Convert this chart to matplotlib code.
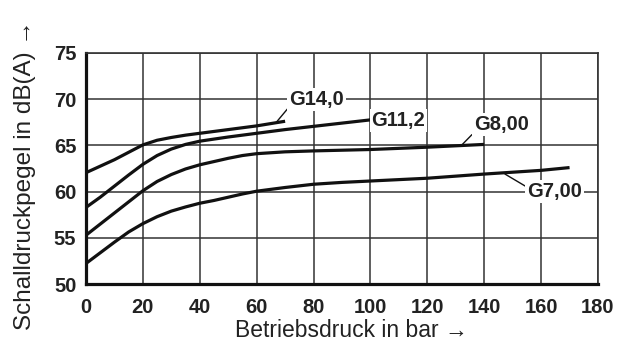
import matplotlib
matplotlib.use("Agg")
import matplotlib.pyplot as plt

# Daten
druck_g14 = [0, 5, 10, 15, 20, 25, 30, 35, 40, 45, 50, 60, 70]
pegel_g14 = [62.05, 62.75, 63.45, 64.25, 65.05, 65.55, 65.85, 66.1, 66.3, 66.5, 66.7, 67.1, 67.6]

druck_g11 = [0, 5, 10, 15, 20, 25, 30, 35, 40, 50, 60, 70, 80, 90, 100]
pegel_g11 = [58.3, 59.4, 60.6, 61.8, 62.95, 63.9, 64.6, 65.1, 65.45, 65.9, 66.3, 66.7, 67.05, 67.4, 67.75]

druck_g8 = [0, 5, 10, 15, 20, 25, 30, 35, 40, 45, 50, 55, 60, 70, 80, 100, 120, 140]
pegel_g8 = [55.3, 56.5, 57.7, 58.9, 60.1, 61.1, 61.85, 62.45, 62.9, 63.25, 63.6, 63.9, 64.1,
            64.3, 64.4, 64.55, 64.8, 65.1]

druck_g7 = [0, 5, 10, 15, 20, 25, 30, 35, 40, 45, 50, 55, 60, 70, 80, 90, 100, 120, 140, 160, 170]
pegel_g7 = [52.25, 53.4, 54.55, 55.65, 56.55, 57.3, 57.9, 58.35, 58.75, 59.05, 59.4, 59.75, 60.05,
            60.45, 60.8, 61.0, 61.15, 61.45, 61.9, 62.3, 62.6]

x_ticks = [0, 20, 40, 60, 80, 100, 120, 140, 160, 180]
y_ticks = [50, 55, 60, 65, 70, 75]

schrift = ["Liberation Sans", "DejaVu Sans"]
plt.rcParams["font.family"] = schrift

fig = plt.figure(figsize=(6.36, 3.45), dpi=100)
ax = fig.add_axes([86 / 636, 1 - 284.3 / 345, 512 / 636, 231.6 / 345])

ax.set_xlim(0, 180)
ax.set_ylim(50, 75)
ax.set_xticks(x_ticks)
ax.set_yticks(y_ticks)
ax.grid(True, color="#333333", linewidth=1.1)
ax.set_axisbelow(True)
ax.tick_params(length=0, labelsize=14.5)
ax.tick_params(axis="x", pad=10)
ax.tick_params(axis="y", pad=7)
for lab in ax.get_xticklabels() + ax.get_yticklabels():
    lab.set_fontweight("bold")
    lab.set_color("#222222")

for seite in ["left", "bottom"]:
    ax.spines[seite].set_linewidth(2.3)
    ax.spines[seite].set_color("#111111")
for seite in ["top", "right"]:
    ax.spines[seite].set_linewidth(1.2)
    ax.spines[seite].set_color("#333333")

for d, p in [(druck_g14, pegel_g14), (druck_g11, pegel_g11),
             (druck_g8, pegel_g8), (druck_g7, pegel_g7)]:
    ax.plot(d, p, color="#111111", linewidth=2.3, solid_capstyle="butt",
            solid_joinstyle="round", zorder=3)

kasten = dict(boxstyle="square,pad=0.1", facecolor="white", edgecolor="none")
text_stil = dict(fontsize=14.5, fontweight="bold", color="#222222", bbox=kasten, zorder=5)
linie = dict(arrowstyle="-", color="#111111", linewidth=1.0, shrinkA=0, shrinkB=0)

ax.annotate("G14,0", xy=(66.8, 67.45), xytext=(71.5, 70.0), ha="left", va="center",
            arrowprops=dict(linie, relpos=(0, 0.1)), **text_stil)
ax.text(100.4, 67.7, "G11,2", ha="left", va="center", **text_stil)
ax.annotate("G8,00", xy=(132, 65.0), xytext=(136.4, 67.2), ha="left", va="center",
            arrowprops=dict(linie, relpos=(0, 0.1)), **text_stil)
ax.annotate("G7,00", xy=(147.3, 61.9), xytext=(155.2, 60.05), ha="left", va="center",
            arrowprops=dict(linie, relpos=(0, 0.7)), **text_stil)

ax.set_xlabel("Betriebsdruck in bar \u2192", fontsize=16.5, color="#222222", va="center")
ax.xaxis.set_label_coords(0.518, -0.2016)
ax.set_ylabel("Schalldruckpegel in dB(A) \u2192", fontsize=17.5, color="#222222", va="center")
ax.yaxis.set_label_coords(-0.119, 0.472)

fig.savefig("out.png", dpi=100)
